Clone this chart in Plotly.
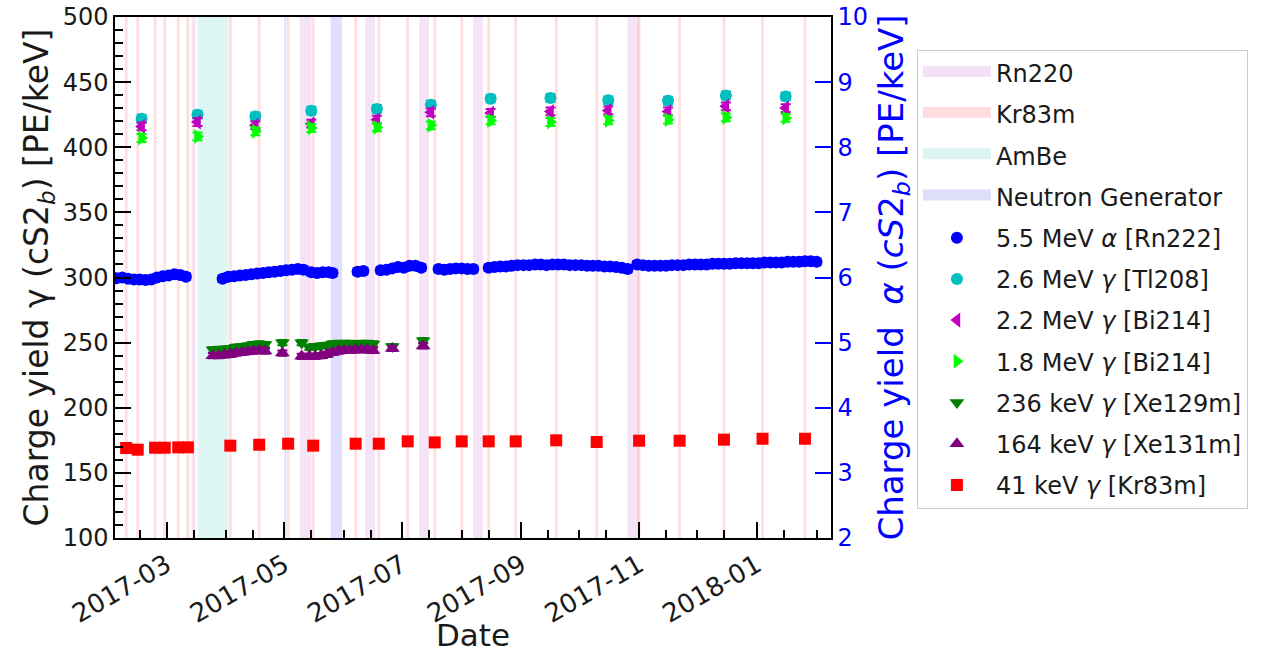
import plotly.graph_objects as go
import pandas as pd

# ---------------- data ----------------
# calibration periods (bands)
rn220_start = ["2017-03-14", "2017-05-09", "2017-06-12", "2017-07-10", "2017-08-07", "2017-10-26"]
rn220_end = ["2017-03-16", "2017-05-15", "2017-06-17", "2017-07-15", "2017-08-12", "2017-11-01"]
ambe_start = ["2017-03-17"]
ambe_end = ["2017-04-02"]
ng_start = ["2017-05-01", "2017-05-25"]
ng_end = ["2017-05-02", "2017-05-31"]

# Kr83m calibrations (41 keV line)
kr_dates = ["2017-02-08", "2017-02-14", "2017-02-23", "2017-02-28", "2017-03-07", "2017-03-12",
            "2017-04-03", "2017-04-18", "2017-05-03", "2017-05-16", "2017-06-07", "2017-06-19",
            "2017-07-04", "2017-07-18", "2017-08-01", "2017-08-15", "2017-08-29", "2017-09-19",
            "2017-10-10", "2017-11-01", "2017-11-22", "2017-12-15", "2018-01-04", "2018-01-26"]
kr_values = [169.1, 167.8, 169.3, 169.3, 169.6, 169.6,
             170.9, 171.6, 172.4, 170.9, 172.4, 172.4,
             174.2, 173.4, 174.2, 174.2, 174.2, 175.0,
             173.7, 174.7, 174.7, 175.5, 176.2, 176.2]
kr_err = 2.5

# high-energy gamma lines (monthly)
gamma_dates = ["2017-02-16", "2017-03-17", "2017-04-16", "2017-05-15", "2017-06-18", "2017-07-16",
               "2017-08-16", "2017-09-16", "2017-10-16", "2017-11-16", "2017-12-16", "2018-01-16"]
tl208_values = [421.9, 425.0, 423.7, 428.1, 429.4, 432.7, 437.3, 437.8, 436.0, 435.7, 439.8, 439.0]
bi214_22_values = [416.0, 419.4, 416.8, 418.1, 421.2, 426.8, 426.3, 427.5, 428.3, 427.5, 431.4, 430.1]
bi214_18_values = [407.1, 408.3, 412.2, 414.8, 415.2, 416.8, 420.6, 419.4, 420.6, 421.2, 422.9, 422.5]
gamma_err = 3.0

# activated xenon lines
xe_dates = ["2017-03-25", "2017-03-28", "2017-03-31", "2017-04-03", "2017-04-06", "2017-04-09",
            "2017-04-12", "2017-04-15", "2017-04-18", "2017-04-21", "2017-04-30", "2017-05-10",
            "2017-05-14", "2017-05-17", "2017-05-20", "2017-05-23", "2017-05-26", "2017-05-29",
            "2017-06-01", "2017-06-04", "2017-06-07", "2017-06-10", "2017-06-13", "2017-06-16",
            "2017-06-26", "2017-07-12"]
xe129_values = [244.5, 244.8, 245.0, 245.5, 246.5, 247.0, 247.5, 248.5, 249.0, 248.5, 250.0, 250.0,
                246.5, 247.0, 247.5, 248.0, 249.0, 249.5, 249.5, 249.5, 249.0, 249.5, 249.5, 249.0,
                247.0, 251.5]
xe131_values = [240.0, 240.0, 240.5, 241.0, 242.0, 242.5, 243.0, 243.5, 244.0, 243.5, 242.0, 239.5,
                239.5, 239.5, 240.0, 241.0, 242.5, 243.5, 244.0, 244.0, 244.5, 244.5, 244.5, 244.0,
                245.5, 247.5]
xe_err = 2.0

# Rn222 alpha (right axis)
alpha_dates = [
    "2017-02-03", "2017-02-06", "2017-02-09", "2017-02-12", "2017-02-15", "2017-02-18", "2017-02-21",
    "2017-02-24", "2017-02-27", "2017-03-02", "2017-03-05", "2017-03-08", "2017-03-11",
    "2017-03-30", "2017-04-02", "2017-04-05", "2017-04-08", "2017-04-11", "2017-04-14", "2017-04-17",
    "2017-04-20", "2017-04-23", "2017-04-26", "2017-04-29", "2017-05-02", "2017-05-05", "2017-05-08",
    "2017-05-11",
    "2017-05-15", "2017-05-18", "2017-05-21", "2017-05-24", "2017-05-26",
    "2017-06-08", "2017-06-11",
    "2017-06-20", "2017-06-23", "2017-06-26", "2017-06-29", "2017-07-02", "2017-07-05", "2017-07-08",
    "2017-07-11",
    "2017-07-20", "2017-07-23", "2017-07-26", "2017-07-29", "2017-08-01", "2017-08-04", "2017-08-07",
    "2017-08-15", "2017-08-18", "2017-08-21", "2017-08-24", "2017-08-27", "2017-08-30", "2017-09-02",
    "2017-09-05", "2017-09-08", "2017-09-11", "2017-09-14", "2017-09-17", "2017-09-20", "2017-09-23",
    "2017-09-26", "2017-09-29", "2017-10-02", "2017-10-05", "2017-10-08", "2017-10-11", "2017-10-14",
    "2017-10-17", "2017-10-20", "2017-10-23", "2017-10-26",
    "2017-10-31", "2017-11-03", "2017-11-06", "2017-11-09", "2017-11-12", "2017-11-15", "2017-11-18",
    "2017-11-21", "2017-11-24", "2017-11-27", "2017-11-30", "2017-12-03", "2017-12-06", "2017-12-09",
    "2017-12-12", "2017-12-15", "2017-12-18", "2017-12-21", "2017-12-24", "2017-12-27", "2017-12-30",
    "2018-01-02", "2018-01-05", "2018-01-08", "2018-01-11", "2018-01-14", "2018-01-17", "2018-01-20",
    "2018-01-23", "2018-01-26", "2018-01-29", "2018-02-01"]
alpha_values = [
    5.99, 6.00, 5.98, 5.97, 5.97, 5.96, 5.97, 6.00, 6.02, 6.03, 6.05, 6.04, 6.01,
    5.98, 6.01, 6.02, 6.03, 6.04, 6.05, 6.06, 6.07, 6.08, 6.09, 6.10, 6.11, 6.12, 6.13, 6.12,
    6.08, 6.07, 6.08, 6.08, 6.07,
    6.09, 6.10,
    6.11, 6.12, 6.14, 6.16, 6.15, 6.18, 6.18, 6.15,
    6.13, 6.12, 6.13, 6.14, 6.14, 6.13, 6.13,
    6.15, 6.16, 6.17, 6.17, 6.18, 6.19, 6.19, 6.19, 6.20, 6.20, 6.19, 6.20, 6.20, 6.20, 6.19, 6.19,
    6.19, 6.18, 6.18, 6.18, 6.17, 6.17, 6.16, 6.15, 6.13,
    6.20, 6.19, 6.18, 6.18, 6.18, 6.18, 6.19, 6.19, 6.19, 6.20, 6.20, 6.20, 6.20, 6.21, 6.21, 6.21,
    6.21, 6.22, 6.22, 6.22, 6.22, 6.22, 6.23, 6.23, 6.23, 6.23, 6.24, 6.24, 6.24, 6.25, 6.25, 6.24]
alpha_err = 0.05

# axis ticks
x_tickvals = ["2017-03-01", "2017-05-01", "2017-07-01", "2017-09-01", "2017-11-01", "2018-01-01"]
x_ticktext = ["2017-03", "2017-05", "2017-07", "2017-09", "2017-11", "2018-01"]
x_minor_ticks = ["2017-02-15", "2017-03-15", "2017-04-01", "2017-04-15", "2017-05-15", "2017-06-01",
                 "2017-06-15", "2017-07-15", "2017-08-01", "2017-08-15", "2017-09-15", "2017-10-01",
                 "2017-10-15", "2017-11-15", "2017-12-01", "2017-12-15", "2018-01-15", "2018-02-01"]
X_RANGE = ["2017-02-02 05:00", "2018-02-08 12:00"]
Y_LEFT_RANGE = [100, 500]
Y_RIGHT_RANGE = [2, 10]

FONT = "DejaVu Sans"
TXT = "#1a1a1a"


def band_polygons(starts, ends):
    xs, ys = [], []
    lo, hi = Y_LEFT_RANGE
    for s, e in zip(starts, ends):
        xs += [s, s, e, e, s, None]
        ys += [lo, hi, hi, lo, lo, None]
    return xs, ys


def ms(days):
    return days * 86400000.0


fig = go.Figure()

# bands
kr_half = pd.Timedelta(hours=18)
kr_starts = [(pd.Timestamp(d) - kr_half).isoformat() for d in kr_dates]
kr_ends = [(pd.Timestamp(d) + kr_half).isoformat() for d in kr_dates]

bands = [
    ("Rn220", rn220_start, rn220_end, "rgba(190,80,200,0.16)", "#f3e2f6"),
    ("Kr83m", kr_starts, kr_ends, "rgba(255,40,40,0.15)", "#fddddd"),
    ("AmBe", ambe_start, ambe_end, "rgba(0,190,170,0.13)", "#ddf5f2"),
    ("Neutron Generator", ng_start, ng_end, "rgba(40,40,255,0.15)", "#dedefa"),
]
for name, s, e, col, solid in bands:
    bx, by = band_polygons(s, e)
    fig.add_trace(go.Scatter(
        x=bx, y=by, mode="lines", fill="toself", fillcolor=col,
        line=dict(width=0, color=col), name=name, legendgroup=name,
        showlegend=False, hoverinfo="skip", yaxis="y"))
    # legend patch
    fig.add_trace(go.Scatter(
        x=[None], y=[None], mode="lines", line=dict(width=10, color=solid),
        fill="toself", fillcolor=solid,
        name=name, legendgroup=name, showlegend=True, yaxis="y"))

# alpha series on right axis
fig.add_trace(go.Scatter(
    x=alpha_dates, y=alpha_values, yaxis="y2", mode="markers",
    name="5.5 MeV <i>α</i> [Rn222]", legendgroup="a",
    marker=dict(symbol="circle", size=12, color="#0000ff", line=dict(width=0)),
    error_y=dict(type="constant", value=alpha_err, color="#0000ff", thickness=2, width=5),
))

series = [
    ("2.6 MeV <i>γ</i> [Tl208]", gamma_dates, tl208_values, gamma_err, "#00bfbf", "circle", 12, True),
    ("2.2 MeV <i>γ</i> [Bi214]", gamma_dates, bi214_22_values, gamma_err, "#bf00bf", "triangle-left", 13, True),
    ("1.8 MeV <i>γ</i> [Bi214]", gamma_dates, bi214_18_values, gamma_err, "#00ff00", "triangle-right", 13, True),
    ("236 keV <i>γ</i> [Xe129m]", xe_dates, xe129_values, xe_err, "#008000", "triangle-down", 13, False),
    ("164 keV <i>γ</i> [Xe131m]", xe_dates, xe131_values, xe_err, "#800080", "triangle-up", 13, False),
    ("41 keV <i>γ</i> [Kr83m]", kr_dates, kr_values, kr_err, "#ff0000", "square", 12, True),
]
for name, xd, yv, err, col, sym, size, xerr in series:
    kw = {}
    if xerr:
        kw["error_x"] = dict(type="constant", value=ms(4.0), color=col, thickness=3, width=4)
    fig.add_trace(go.Scatter(
        x=xd, y=yv, yaxis="y", mode="markers", name=name, legendgroup=name,
        marker=dict(symbol=sym, size=size, color=col, line=dict(width=0)),
        error_y=dict(type="constant", value=err, color=col, thickness=2, width=5),
        **kw))

fig.update_layout(
    width=1266, height=653,
    margin=dict(l=115, r=435, t=17, b=115, autoexpand=False),
    paper_bgcolor="white", plot_bgcolor="white",
    font=dict(family=FONT, color=TXT, size=22),
    showlegend=True,
    legend=dict(
        x=1.12, y=0.937, xanchor="left", yanchor="top",
        bgcolor="white", bordercolor="#cccccc", borderwidth=1,
        font=dict(family=FONT, size=24, color=TXT),
        tracegroupgap=7, itemwidth=68,
    ),
    xaxis=dict(
        type="date", range=X_RANGE, automargin=False,
        tickmode="array", tickvals=x_tickvals, ticktext=x_ticktext, tickangle=-30,
        ticks="inside", ticklen=16, tickwidth=1.5, tickcolor="black",
        minor=dict(tickmode="array", tickvals=x_minor_ticks, ticks="inside", ticklen=8,
                   tickwidth=1.5, tickcolor="black", showgrid=False),
        showline=True, linecolor="black", linewidth=1.5, mirror=True,
        showgrid=False, zeroline=False,
        tickfont=dict(size=26, family=FONT, color=TXT),
        title=dict(text="Date", font=dict(size=31, family=FONT, color=TXT), standoff=2),
    ),
    yaxis=dict(
        range=Y_LEFT_RANGE, dtick=50, tick0=0, automargin=False,
        ticks="inside", ticklen=16, tickwidth=1.5, tickcolor="black",
        minor=dict(dtick=10, ticks="inside", ticklen=8, tickwidth=1.5, tickcolor="black", showgrid=False),
        showline=True, linecolor="black", linewidth=1.5, mirror=True,
        showgrid=False, zeroline=False,
        tickfont=dict(size=24, family=FONT, color=TXT),
        title=dict(text="Charge yield γ (cS2<sub><i>b</i></sub>) [PE/keV]",
                   font=dict(size=33, family=FONT, color=TXT), standoff=4),
    ),
    yaxis2=dict(
        range=Y_RIGHT_RANGE, dtick=1, tick0=0, overlaying="y", side="right", automargin=False,
        ticks="inside", ticklen=16, tickwidth=2, tickcolor="#0000ff",
        showline=True, linecolor="black", linewidth=1.5,
        showgrid=False, zeroline=False,
        tickfont=dict(size=24, family=FONT, color="#0000ff"),
        title=dict(text="Charge yield  <i>α</i> (<i>cS</i>2<sub><i>b</i></sub>) [PE/keV]",
                   font=dict(size=34, family=FONT, color="#0000ff"), standoff=12),
    ),
)

fig.write_html("out.html",
               config={"displayModeBar": False},
               post_script="document.body.style.margin='0px';document.body.style.overflow='hidden';")
